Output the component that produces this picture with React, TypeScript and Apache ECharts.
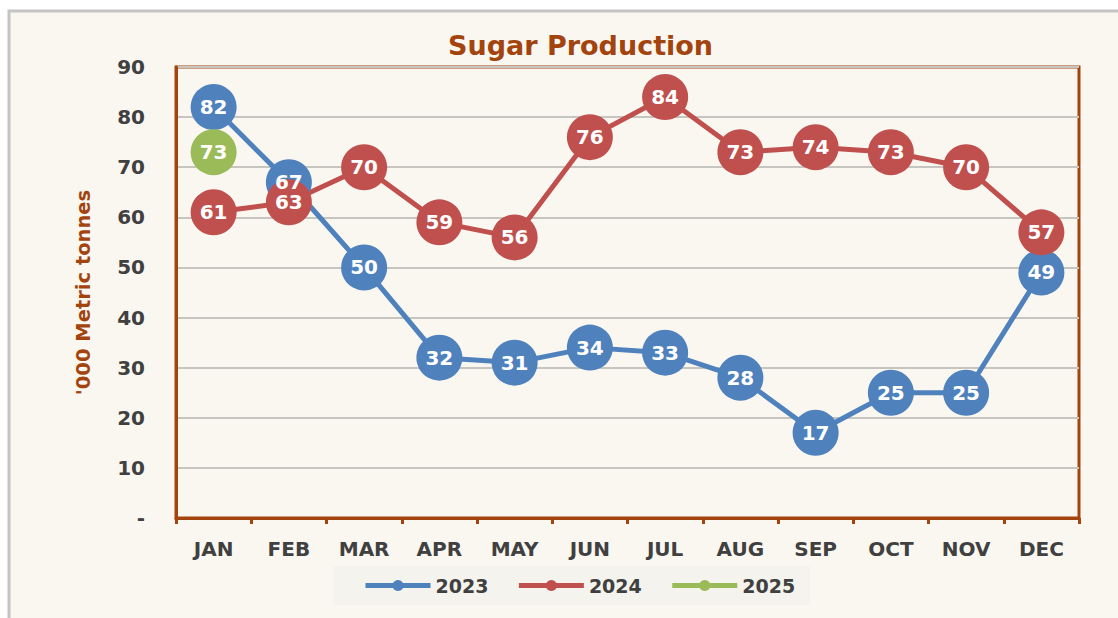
import React, { useEffect, useRef } from "react";
import * as echarts from "echarts";

const months = ["JAN", "FEB", "MAR", "APR", "MAY", "JUN", "JUL", "AUG", "SEP", "OCT", "NOV", "DEC"];
const s2023 = [82, 67, 50, 32, 31, 34, 33, 28, 17, 25, 25, 49];
const s2024 = [61, 63, 70, 59, 56, 76, 84, 73, 74, 73, 70, 57];
const s2025 = [73, null, null, null, null, null, null, null, null, null, null, null];
const yTicks = { min: 0, max: 90, interval: 10 };

const FONT = "'DejaVu Sans', sans-serif";
const BROWN = "#a3440f";
const TXT = "#404040";

export default function App() {
  const ref = useRef<HTMLDivElement>(null);
  useEffect(() => {
    const chart = echarts.init(ref.current!, null, { renderer: "svg" });
    const mk = (name: string, data: (number | null)[], color: string) => ({
      name,
      type: "line",
      data,
      z: 2,
      symbol: "circle",
      symbolSize: 46,
      connectNulls: false,
      itemStyle: { color },
      lineStyle: { color, width: 5 },
      label: {
        show: true,
        position: "inside",
        color: "#ffffff",
        textBorderWidth: 0,
        fontFamily: FONT,
        fontWeight: "bold",
        fontSize: 20,
      },
      emphasis: { disabled: true },
    });
    chart.setOption({
      animation: false,
      backgroundColor: "#ffffff",
      graphic: [
        {
          type: "rect",
          z: -10,
          shape: { x: 9, y: 11, width: 1200, height: 700 },
          style: { fill: "#faf7f1", stroke: "#c4c4c4", lineWidth: 3 },
        },
      ],
      title: {
        text: "Sugar Production",
        left: 443,
        top: 27,
        textStyle: { color: BROWN, fontFamily: FONT, fontWeight: "bold", fontSize: 27 },
      },
      grid: {
        left: 176,
        top: 67,
        right: 39,
        bottom: 100,
        show: true,
        borderColor: BROWN,
        borderWidth: 3,
        backgroundColor: "transparent",
      },
      legend: {
        bottom: 13,
        left: 333,
        itemWidth: 65,
        itemHeight: 14,
        itemGap: 28,
        backgroundColor: "#f4f3ee",
        padding: [10, 15, 10, 30],
        lineStyle: { width: 5 },
        textStyle: { color: TXT, fontFamily: FONT, fontWeight: "bold", fontSize: 19 },
        data: ["2023", "2024", "2025"],
      },
      xAxis: {
        type: "category",
        data: months,
        boundaryGap: true,
        axisLine: { lineStyle: { color: BROWN, width: 3 } },
        axisTick: { show: true, length: 6, interval: 0, lineStyle: { color: BROWN, width: 3 } },
        axisLabel: { color: TXT, fontFamily: FONT, fontWeight: "bold", fontSize: 20, margin: 21, interval: 0 },
        splitLine: { show: false },
      },
      yAxis: {
        type: "value",
        min: yTicks.min,
        max: yTicks.max,
        interval: yTicks.interval,
        name: "'000 Metric tonnes",
        nameLocation: "middle",
        nameGap: 83,
        nameTextStyle: { color: BROWN, fontFamily: FONT, fontWeight: "bold", fontSize: 19.5 },
        axisLine: { show: true, lineStyle: { color: BROWN, width: 3 } },
        axisTick: { show: false },
        axisLabel: {
          color: TXT,
          fontFamily: FONT,
          fontWeight: "bold",
          fontSize: 20,
          margin: 31,
          formatter: (v: number) => (v === 0 ? "-" : String(v)),
        },
        splitLine: { show: true, lineStyle: { color: "#c6c5c0", width: 2 } },
      },
      series: [mk("2023", s2023, "#4f81bd"), mk("2024", s2024, "#c0504d"), mk("2025", s2025, "#9bbb59")],
    });
    return () => chart.dispose();
  }, []);
  return (
    <div
      ref={ref}
      style={{ position: "absolute", left: 0, top: 0, width: 1118, height: 618 }}
    />
  );
}
